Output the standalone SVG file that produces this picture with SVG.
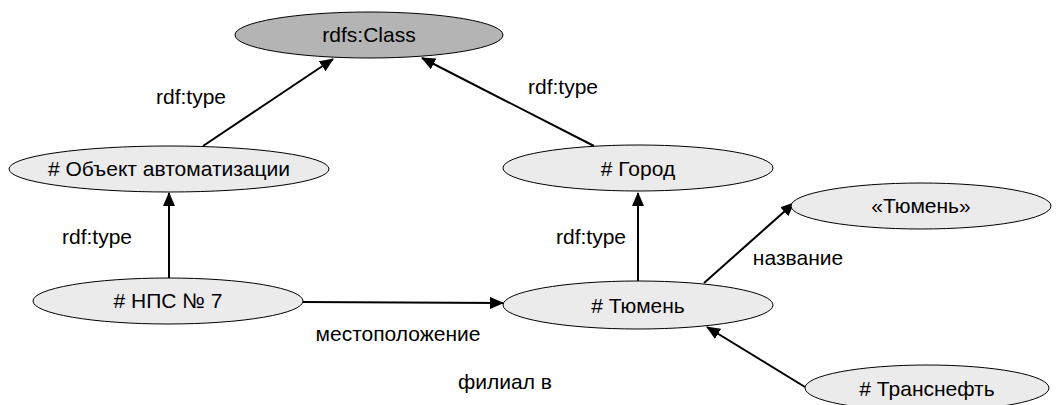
<svg xmlns="http://www.w3.org/2000/svg" width="1064" height="405" viewBox="0 0 1064 405">
  <style>
    .node { fill: #ebebeb; stroke: #000; stroke-width: 1; }
    .cls { fill: #b4b4b4; stroke: #000; stroke-width: 1; }
    .lbl { font-family: "Liberation Sans", Arial, sans-serif; font-size: 21px; fill: #000; }
    .mid { text-anchor: middle; dominant-baseline: central; }
    .edge { stroke: #000; stroke-width: 2; fill: none; marker-end: url(#arrow); }
  </style>
  <defs>
    <marker id="arrow" markerWidth="14" markerHeight="12" refX="13" refY="6" orient="auto" markerUnits="userSpaceOnUse">
      <path d="M0,0 L14,6 L0,12 z" fill="#000"/>
    </marker>
  </defs>

  <g id="connectors">
    <line class="edge" x1="203" y1="146" x2="333" y2="59"/>
    <line class="edge" x1="594" y1="146" x2="422" y2="58"/>
    <line class="edge" x1="169" y1="278" x2="169" y2="193"/>
    <line class="edge" x1="638" y1="282" x2="638" y2="193"/>
    <line class="edge" x1="303" y1="302" x2="503" y2="303"/>
    <line class="edge" x1="704" y1="283" x2="794" y2="203"/>
    <line class="edge" x1="805" y1="387" x2="707" y2="327"/>
    <text class="lbl mid" x="191" y="96">rdf:type</text>
    <text class="lbl mid" x="563" y="86">rdf:type</text>
    <text class="lbl mid" x="97" y="236">rdf:type</text>
    <text class="lbl mid" x="591" y="236">rdf:type</text>
    <text class="lbl mid" x="798" y="257">название</text>
    <text class="lbl mid" x="398" y="333">местоположение</text>
    <text class="lbl mid" x="505" y="381">филиал в</text>
  </g>

  <g id="rdfs-class">
    <ellipse class="cls" cx="369" cy="35" rx="134" ry="23"/>
    <text class="lbl mid" x="369" y="34">rdfs:Class</text>
  </g>
  <g id="obj-automation">
    <ellipse class="node" cx="169" cy="169" rx="160" ry="23"/>
    <text class="lbl mid" x="169" y="168"># Объект автоматизации</text>
  </g>
  <g id="city">
    <ellipse class="node" cx="638" cy="168" rx="135" ry="23"/>
    <text class="lbl mid" x="638" y="168"># Город</text>
  </g>
  <g id="tyumen-literal">
    <ellipse class="node" cx="921" cy="206" rx="130" ry="23"/>
    <text class="lbl mid" x="921" y="205">«Тюмень»</text>
  </g>
  <g id="nps7">
    <ellipse class="node" cx="168" cy="301" rx="135" ry="23"/>
    <text class="lbl mid" x="168" y="300"># НПС № 7</text>
  </g>
  <g id="tyumen">
    <ellipse class="node" cx="638" cy="305" rx="135" ry="24"/>
    <text class="lbl mid" x="638" y="305"># Тюмень</text>
  </g>
  <g id="transneft">
    <ellipse class="node" cx="927" cy="388" rx="122" ry="23"/>
    <text class="lbl mid" x="927" y="388"># Транснефть</text>
  </g>
</svg>
